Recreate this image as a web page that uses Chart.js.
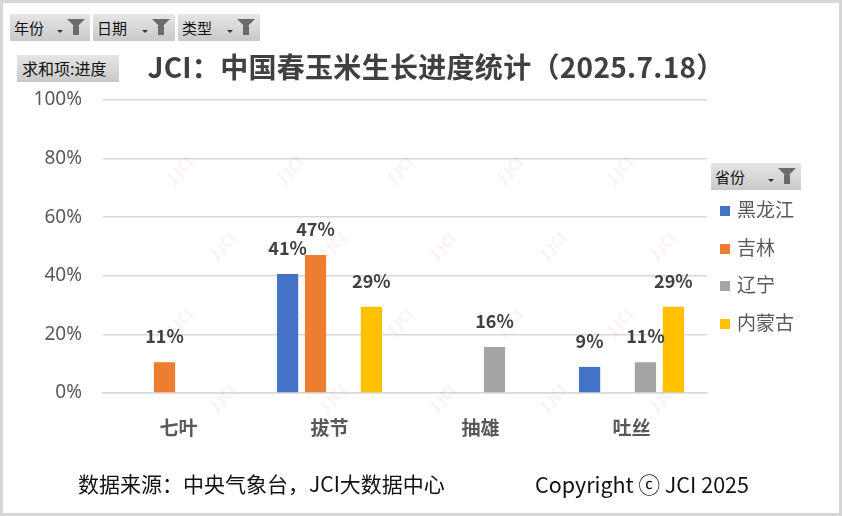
<!DOCTYPE html>
<html>
<head>
<meta charset="utf-8">
<script src="https://cdn.jsdelivr.net/npm/chart.js@4"></script>
<style>
  body { margin: 0; background: #fff; font-family: "Noto Sans CJK SC", "Noto Sans", sans-serif; }
  .wrap { position: relative; width: 842px; height: 516px; overflow: hidden; }
  .frame { position: absolute; left: 0; top: 0; width: 842px; height: 516px; box-sizing: border-box; border: 3px solid #d6d6d6; pointer-events: none; }
  canvas { position: absolute; left: 0; top: 0; }
  .btn { position: absolute; height: 27px; box-sizing: border-box; background: linear-gradient(#e6e6e6, #c9c9c9); color: #111; font-size: 15px; line-height: 27px; padding-left: 4px; white-space: nowrap; }
  .btn .funnel { position: absolute; right: 5px; top: 5px; width: 0; height: 0; border-left: 9px solid transparent; border-right: 9px solid transparent; border-top: 9px solid #6b6b6b; }
  .btn .stem { position: absolute; right: 11px; top: 12px; width: 6px; height: 9px; background: #6b6b6b; }
  .btn .arr { position: absolute; right: 27px; top: 16px; width: 0; height: 0; border-left: 3px solid transparent; border-right: 3px solid transparent; border-top: 3px solid #333; }
  .title { position: absolute; left: 0; width: 872px; top: 46px; text-align: center; font-size: 28px; font-weight: bold; color: #404040; letter-spacing: 0.3px; }
  .legend { position: absolute; left: 720px; top: 195px; }
  .legend div { height: 37.7px; font-size: 19px; color: #595959; line-height: 28px; }
  .legend span { display: inline-block; width: 10px; height: 10px; margin-right: 7px; vertical-align: 1px; }
  .foot { position: absolute; top: 468px; font-size: 21px; color: #111; }
</style>
</head>
<body>
<div class="wrap">
  <canvas id="chart" width="842" height="516"></canvas>
  <div class="btn" style="left:10px;top:14px;width:80px">年份<i class="arr"></i><i class="funnel"></i><i class="stem"></i></div>
  <div class="btn" style="left:93px;top:14px;width:82px">日期<i class="arr"></i><i class="funnel"></i><i class="stem"></i></div>
  <div class="btn" style="left:178px;top:14px;width:82px">类型<i class="arr"></i><i class="funnel"></i><i class="stem"></i></div>
  <div class="btn" style="left:17px;top:55px;width:102px;padding-left:5px;font-size:16px">求和项:进度</div>
  <div class="title">JCI：中国春玉米生长进度统计（2025.7.18）</div>
  <div class="btn" style="left:711px;top:163px;width:90px">省份<i class="arr"></i><i class="funnel"></i><i class="stem"></i></div>
  <div class="legend" id="legend"></div>
  <div class="foot" style="left:78px">数据来源：中央气象台，JCI大数据中心</div>
  <div class="foot" style="left:535px;font-size:21.5px">Copyright ⓒ JCI 2025</div>
  <div class="frame"></div>
</div>
<script>
const stages = ["七叶", "拔节", "抽雄", "吐丝"];
const provinces = ["黑龙江", "吉林", "辽宁", "内蒙古"];
const heilongjiang = [null, 40.6, null, 8.9];
const jilin = [10.5, 47.1, null, null];
const liaoning = [null, null, 15.7, 10.5];
const neimenggu = [null, 29.4, null, 29.4];
const colors = ["#4472C4", "#ED7D31", "#A5A5A5", "#FFC000"];
const yTicks = [0, 20, 40, 60, 80, 100];

const seriesValues = [heilongjiang, jilin, liaoning, neimenggu];

document.getElementById("legend").innerHTML = provinces.map((name, i) => `
  <div><span style="background:${colors[i]}"></span>${name}</div>
`).join("");

const valueLabels = {
  id: "valueLabels",
  afterDatasetsDraw(chart) {
    const ctx = chart.ctx;
    ctx.save();
    ctx.font = "bold 18px 'Noto Sans CJK SC', sans-serif";
    ctx.fillStyle = "#404040";
    ctx.textAlign = "center";
    ctx.textBaseline = "middle";
    chart.data.datasets.forEach((ds, di) => {
      const meta = chart.getDatasetMeta(di);
      meta.data.forEach((bar, i) => {
        const v = ds.data[i];
        if (v === null || v === undefined) {
          return;
        }
        ctx.fillText(`${Math.round(v)}%`, bar.x, bar.y - 26);
      });
    });
    ctx.restore();
  }
};

// faint JCI watermark behind the bars
const watermark = {
  id: "watermark",
  beforeDatasetsDraw(chart) {
    const ctx = chart.ctx;
    const area = chart.chartArea;
    ctx.save();
    ctx.font = "bold 15px 'Noto Sans', sans-serif";
    ctx.fillStyle = "rgba(235, 120, 120, 0.10)";
    ctx.textAlign = "center";
    ctx.textBaseline = "middle";
    for (let row = 0; row < 4; row++) {
      const y = area.top + 70 + row * 76;
      const shift = row % 2 ? 43 : 0;
      for (let x = area.left + 78 + shift; x < area.right; x += 110) {
        ctx.save();
        ctx.translate(x, y);
        ctx.rotate(-Math.PI / 4);
        ctx.fillText("J JCI", 0, 0);
        ctx.restore();
      }
    }
    ctx.restore();
  }
};

new Chart(document.getElementById("chart"), {
  type: "bar",
  data: {
    labels: stages,
    datasets: provinces.map((name, i) => ({
      label: name,
      data: seriesValues[i],
      backgroundColor: colors[i],
      barPercentage: 0.76,
      categoryPercentage: 0.74
    }))
  },
  options: {
    responsive: false,
    animation: false,
    events: [],
    layout: { padding: { top: 100, right: 135, left: 0, bottom: 0 } },
    plugins: {
      legend: { display: false },
      tooltip: { enabled: false },
      title: { display: false }
    },
    scales: {
      x: {
        grid: { display: false, drawTicks: false },
        border: { color: "#d9d9d9", width: 1.5 },
        ticks: {
          color: "#595959",
          padding: 23,
          font: { size: 19, weight: "bold", family: "'Noto Sans CJK SC', sans-serif" }
        },
        afterFit(scale) { scale.height = 123; }
      },
      y: {
        min: 0,
        max: 100,
        afterBuildTicks(scale) { scale.ticks = yTicks.map((v) => ({ value: v })); },
        grid: { color: "#d9d9d9", lineWidth: 1.5, drawTicks: false },
        border: { display: false },
        ticks: {
          color: "#595959",
          padding: 21,
          font: { size: 19, family: "'Noto Sans', sans-serif" },
          callback: (v) => `${v}%`
        },
        afterFit(scale) { scale.width = 103; }
      }
    }
  },
  plugins: [watermark, valueLabels]
});
</script>
</body>
</html>
